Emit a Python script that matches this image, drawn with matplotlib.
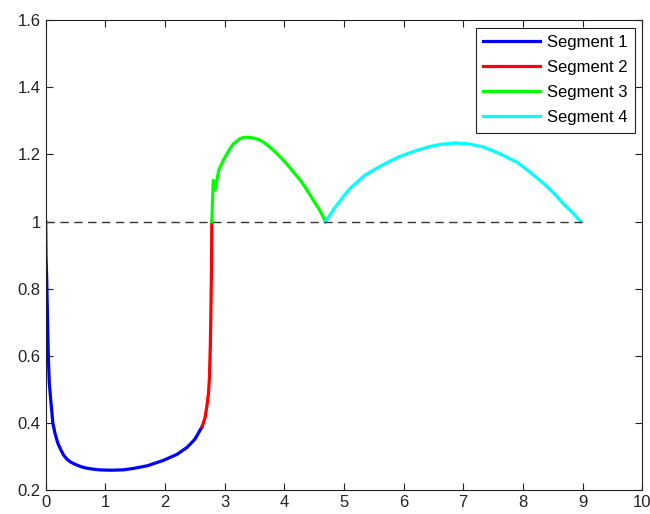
import matplotlib.pyplot as plt

# segment 1 (blue)
x1 = [0.0, 0.005, 0.017, 0.044, 0.06, 0.089, 0.12, 0.156, 0.20, 0.25, 0.30, 0.35, 0.41, 0.5, 0.6, 0.69, 0.8, 0.9,
      1.08, 1.3, 1.46, 1.7, 1.97, 2.2, 2.37, 2.5, 2.62]
y1 = [1.0, 0.9, 0.83, 0.6, 0.52, 0.46, 0.40, 0.37, 0.342, 0.322, 0.305, 0.294, 0.285, 0.277, 0.27, 0.266, 0.263, 0.261,
      0.26, 0.261, 0.265, 0.273, 0.289, 0.307, 0.328, 0.352, 0.389]
# segment 2 (red)
x2 = [2.62, 2.67, 2.70, 2.73, 2.745, 2.76, 2.77, 2.78, 2.785]
y2 = [0.389, 0.415, 0.448, 0.49, 0.537, 0.63, 0.736, 0.87, 1.0]
# segment 3 (green)
x3 = [2.785, 2.80, 2.81, 2.84, 2.90, 2.97, 3.04, 3.10, 3.15, 3.26, 3.33, 3.40, 3.50, 3.60, 3.70, 3.82, 3.93,
      4.04, 4.15, 4.27, 4.38, 4.49, 4.60, 4.69]
y3 = [1.0, 1.08, 1.123, 1.094, 1.152, 1.18, 1.202, 1.22, 1.232, 1.247, 1.251, 1.251, 1.248, 1.242, 1.23, 1.212, 1.193,
      1.172, 1.148, 1.123, 1.094, 1.063, 1.032, 1.0]
# segment 4 (cyan)
x4 = [4.69, 4.85, 5.0, 5.11, 5.35, 5.66, 5.95, 6.22, 6.45, 6.62, 6.87, 7.10, 7.34, 7.60, 7.90, 8.10, 8.35, 8.52,
      8.68, 8.83, 8.97]
y4 = [1.0, 1.042, 1.077, 1.100, 1.138, 1.170, 1.195, 1.212, 1.224, 1.23, 1.234, 1.231, 1.222, 1.203, 1.177, 1.150,
      1.113, 1.084, 1.053, 1.027, 1.0]

plt.rcParams['font.family'] = ['Liberation Sans', 'DejaVu Sans']

fig = plt.figure(figsize=(6.5, 5.14), dpi=100)
ax = fig.add_axes([0.0703, 0.046, 0.9177, 0.915])

ax.plot(x1, y1, color=(0, 0, 1), lw=2.3, label='Segment 1')
ax.plot(x2, y2, color=(1, 0, 0), lw=2.3, label='Segment 2')
ax.plot(x3, y3, color=(0, 1, 0), lw=2.3, label='Segment 3')
ax.plot(x4, y4, color=(0, 1, 1), lw=2.3, label='Segment 4')
ax.plot([0, 9], [1, 1], color='#333333', lw=1, ls=(0, (6, 4)))

ax.set_xlim(0, 10)
ax.set_ylim(0.2, 1.6)
ax.set_xticks(range(0, 11))
ax.set_yticks([0.2, 0.4, 0.6, 0.8, 1, 1.2, 1.4, 1.6])
ax.set_yticklabels(['0.2', '0.4', '0.6', '0.8', '1', '1.2', '1.4', '1.6'])
ax.tick_params(direction='in', top=True, right=True, length=5, labelsize=12, colors='#222222')
for s in ax.spines.values():
    s.set_color('#222222')

handles = ax.get_lines()[:4]
leg = ax.legend(handles=handles, loc='upper right', fontsize=12, handlelength=3.4,
                fancybox=False, edgecolor='#222222', framealpha=1,
                borderaxespad=0.45, labelspacing=0.6, handletextpad=0.4,
                borderpad=0.45)
leg.get_frame().set_linewidth(0.8)

plt.savefig('out.png', dpi=100)
